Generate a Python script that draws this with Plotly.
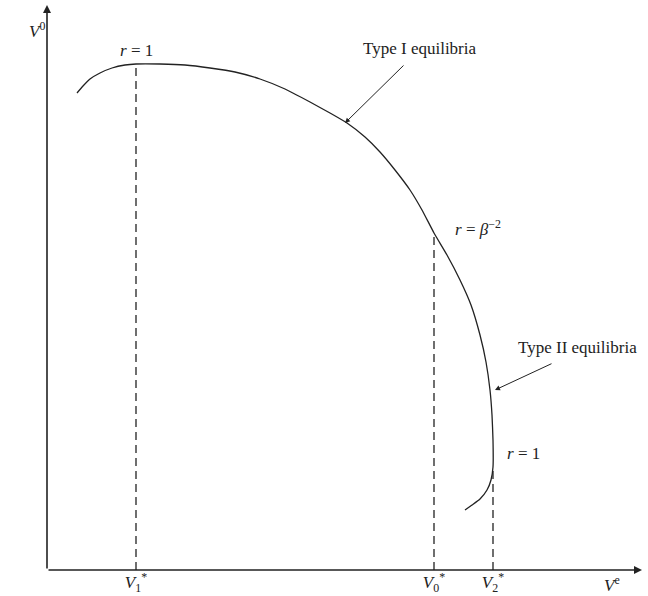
import plotly.graph_objects as go

# Equilibrium locus (V^e, V^0) (arbitrary units)
curve_ve = [30, 36, 43, 53, 65, 78, 89, 113, 138, 163, 188, 213, 238, 263, 283, 300, 318, 333, 348,
            363, 375, 387, 400, 413, 424, 433, 439, 443, 445, 446, 446, 444, 440, 433, 425, 418]
curve_v0 = [477, 484, 491, 497, 502, 505, 506, 506, 505, 502, 498, 491, 481, 468, 457, 447, 433, 418, 400,
            380, 360, 337, 315, 290, 265, 235, 208, 180, 155, 130, 103, 90, 80, 71, 65, 60]

# Special points (dashed drop lines)
special_ve = [89, 387, 446]
special_v0 = [506, 337, 103]
tick_labels = ["<i>V</i><sub>1</sub><sup>*</sup>", "<i>V</i><sub>0</sub><sup>*</sup>", "<i>V</i><sub>2</sub><sup>*</sup>"]

X_MAX = 595
Y_MAX = 565
FONT = "Liberation Serif"
INK = "#222"
SP = "\u00a0"

fig = go.Figure()

fig.add_trace(go.Scatter(x=curve_ve, y=curve_v0, mode="lines",
                         line=dict(color=INK, width=1.3, shape="spline", smoothing=0.4),
                         hoverinfo="skip", showlegend=False))

for xv, yv in zip(special_ve, special_v0):
    fig.add_trace(go.Scatter(x=[xv, xv], y=[0, yv], mode="lines",
                             line=dict(color=INK, width=1.3, dash="8px,5px"),
                             hoverinfo="skip", showlegend=False))

ann = []
# axes with arrowheads
ann.append(dict(x=X_MAX, y=0, ax=0, ay=0, xref="x", yref="y", axref="x", ayref="y",
                showarrow=True, arrowhead=2, arrowsize=1, arrowwidth=1.6, arrowcolor=INK, text=""))
ann.append(dict(x=0, y=Y_MAX, ax=0, ay=0, xref="x", yref="y", axref="x", ayref="y",
                showarrow=True, arrowhead=2, arrowsize=1, arrowwidth=1.6, arrowcolor=INK, text=""))
# pointer arrows
ann.append(dict(x=298, y=447, ax=358, ay=506, xref="x", yref="y", axref="x", ayref="y",
                showarrow=True, arrowhead=2, arrowsize=1, arrowwidth=1, arrowcolor=INK, text=""))
ann.append(dict(x=448, y=180, ax=506, ay=207, xref="x", yref="y", axref="x", ayref="y",
                showarrow=True, arrowhead=2, arrowsize=1, arrowwidth=1, arrowcolor=INK, text=""))

def label(x, y, text, size=17, xref="x", yref="y"):
    return dict(x=x, y=y, xref=xref, yref=yref, text=text, showarrow=False,
                font=dict(family=FONT, size=size, color=INK), xanchor="center", yanchor="middle")

eq = SP + "=" + SP
ann += [
    label(89, 520, "<i>r</i>" + eq + "1"),
    label(373, 522, "Type I equilibria"),
    label(431, 342, "<i>r</i>" + eq + "<i>β</i><sup>−2</sup>"),
    label(530, 223, "Type II equilibria"),
    label(476, 117, "<i>r</i>" + eq + "1"),
    label(-0.017, 0.956, "<i>V</i><sup>0</sup>", xref="paper", yref="paper"),
    label(565, -0.024, "<i>V</i><sup>e</sup>", yref="paper"),
]

fig.update_layout(
    width=648, height=596,
    margin=dict(l=47, r=6, t=5, b=26, autoexpand=False),
    paper_bgcolor="white", plot_bgcolor="white",
    annotations=ann,
    xaxis=dict(range=[0, X_MAX], showgrid=False, zeroline=False, showline=False,
               tickvals=special_ve, ticktext=tick_labels, ticks="", automargin=False,
               tickfont=dict(family=FONT, size=17, color=INK), fixedrange=True),
    yaxis=dict(range=[0, Y_MAX], showgrid=False, zeroline=False, showline=False,
               showticklabels=False, ticks="", automargin=False, fixedrange=True),
)

fig.write_html("out.html", config={"displayModeBar": False},
               post_script="document.body.style.margin='0';document.body.style.overflow='hidden';")
